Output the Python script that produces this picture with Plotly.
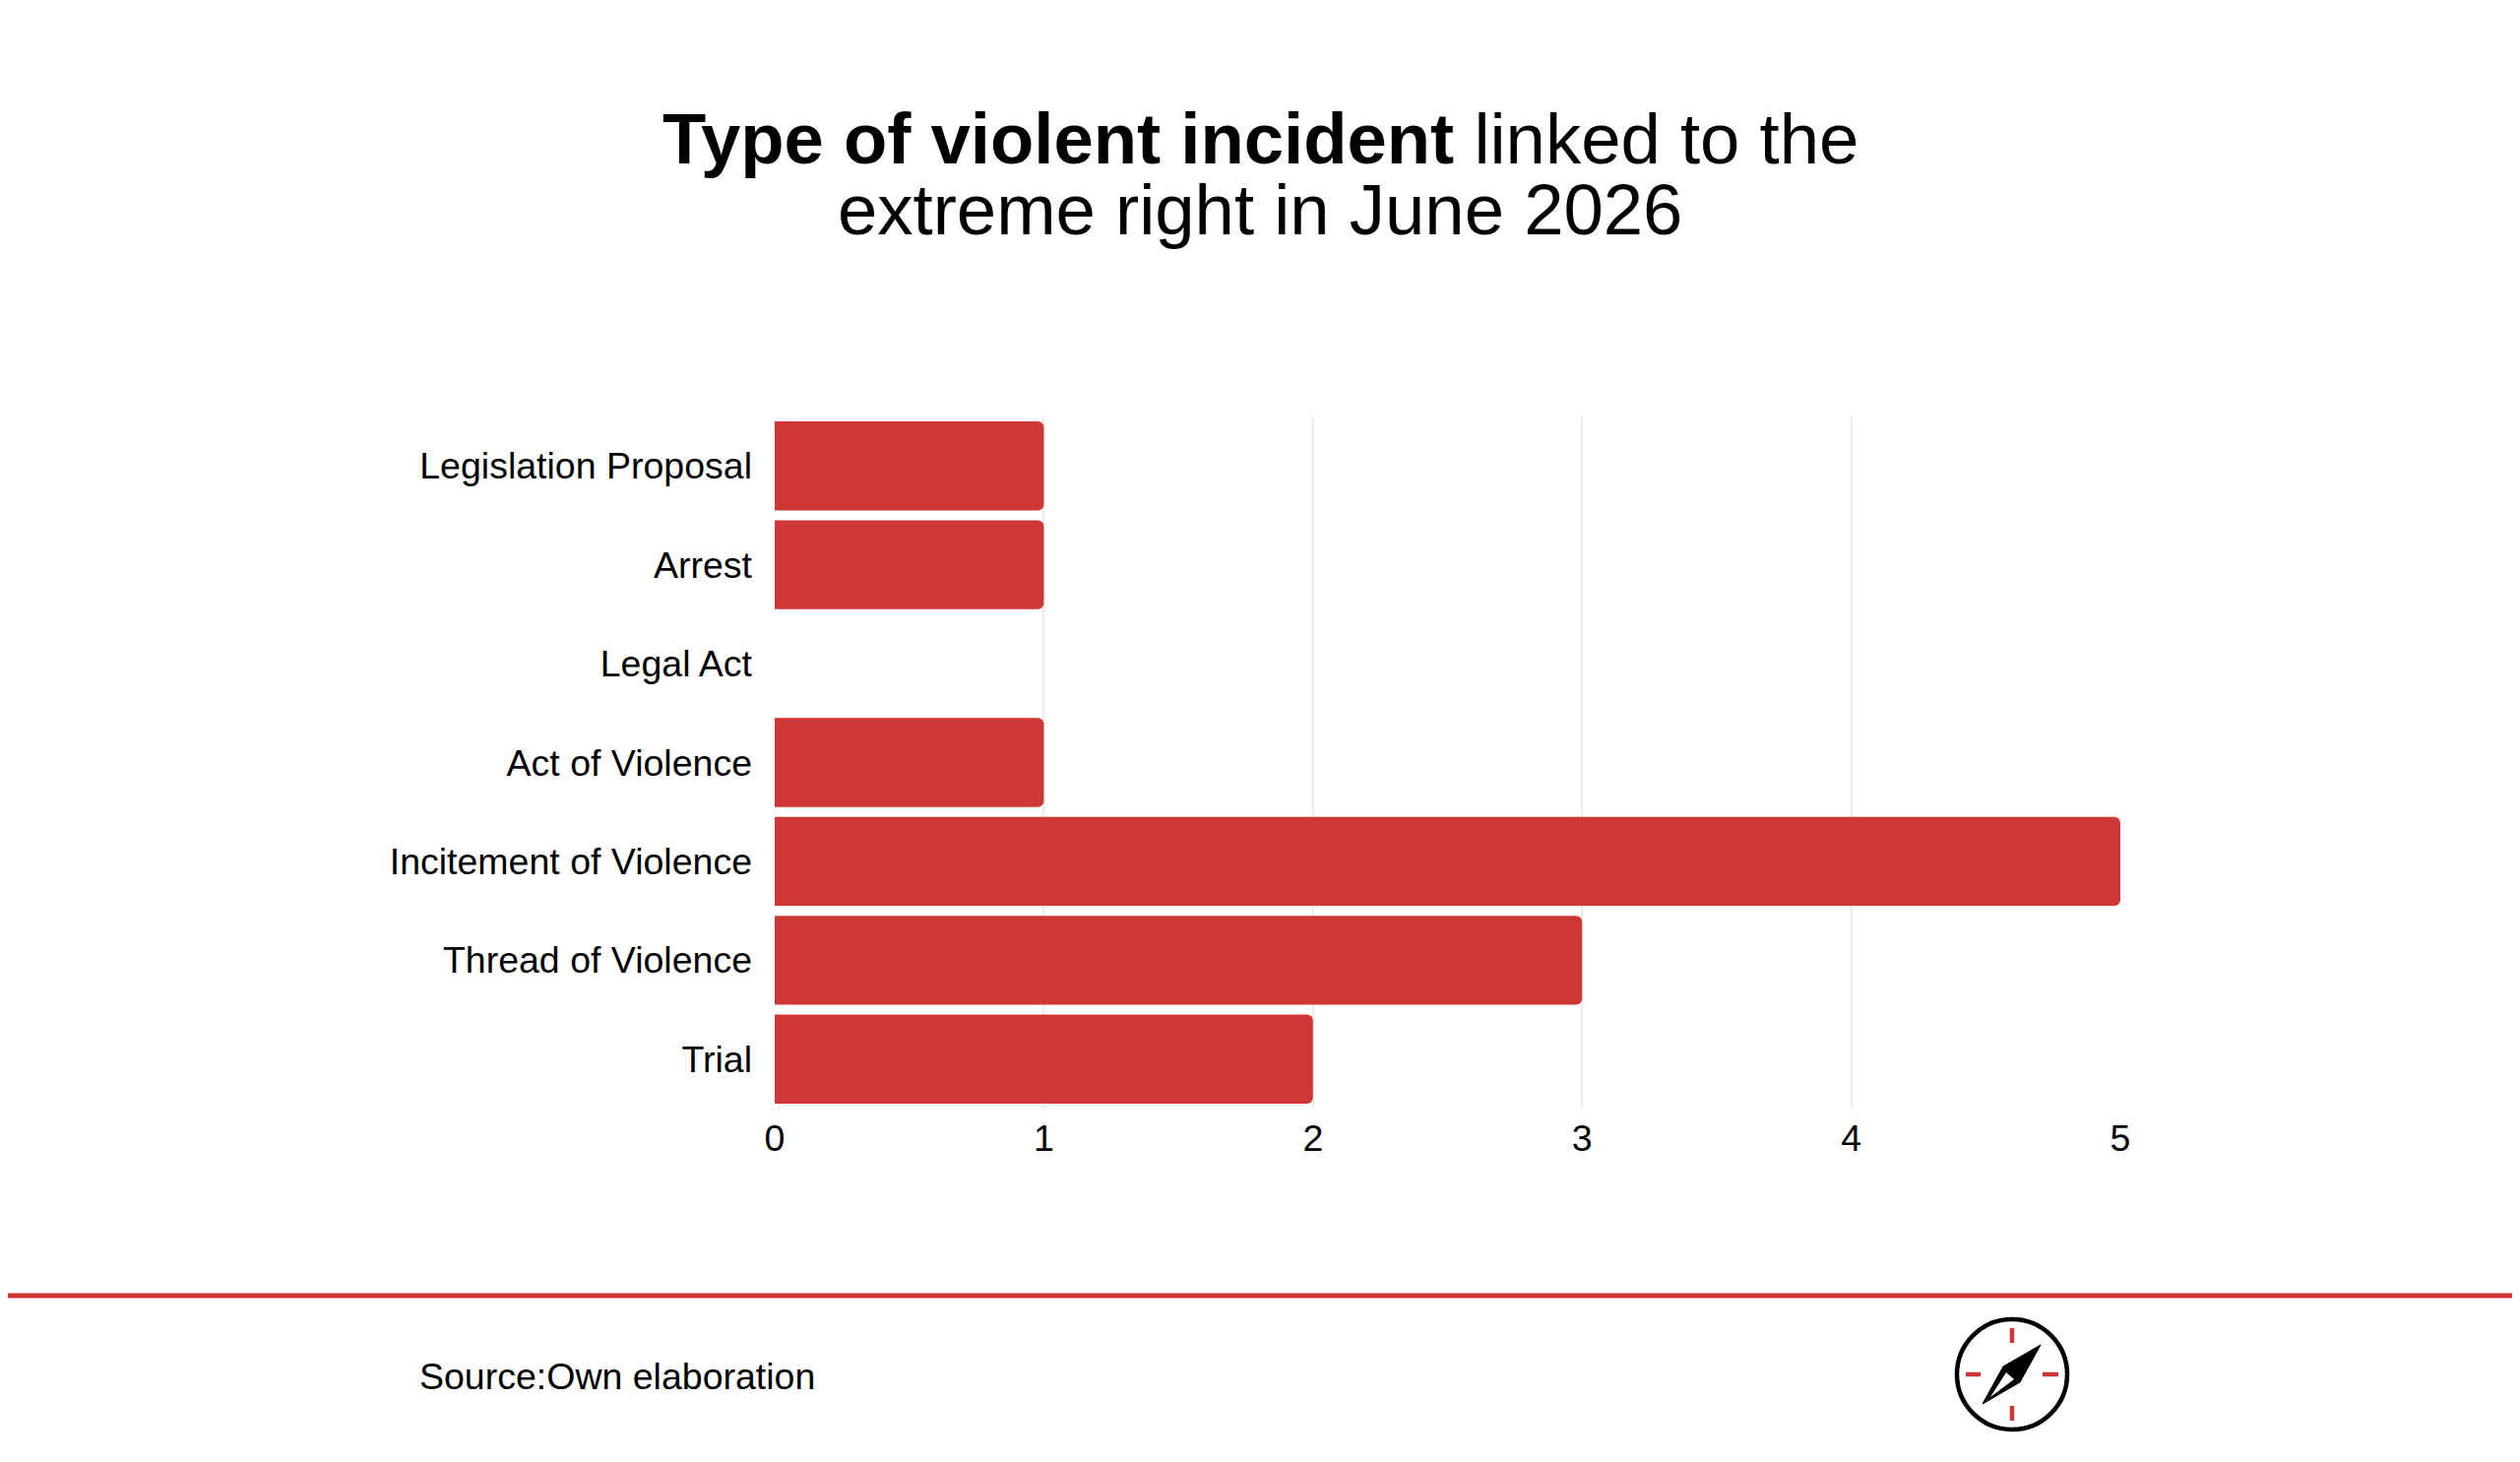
import plotly.graph_objects as go

categories = ["Legislation Proposal", "Arrest", "Legal Act", "Act of Violence",
              "Incitement of Violence", "Thread of Violence", "Trial"]
counts = [1, 1, 0, 1, 5, 3, 2]
x_ticks = [0, 1, 2, 3, 4, 5]

RED = "#cf3636"
FONT = "Liberation Sans, Arial, sans-serif"

W, H = 2560, 1485
OFF = 8  # page body margin, positions below are given in page pixels
ml, mt = 787 - OFF, 423 - OFF
pw, ph = 1367, 703
mr, mb = W - ml - pw, H - mt - ph


def px_x(x):
    return (x - OFF - ml) / pw


def px_y(y):
    return (H - mb - (y - OFF)) / ph


fig = go.Figure(go.Bar(
    x=counts, y=categories, orientation="h",
    marker=dict(color=RED, cornerradius=6, line=dict(width=0)),
))

shapes = []
# red separator line across the page
shapes.append(dict(type="line", xref="paper", yref="paper",
                   x0=px_x(0), x1=px_x(W + OFF), y0=px_y(1316), y1=px_y(1316),
                   line=dict(color=RED, width=5)))

# compass logo
cx, cy, r = 2044, 1396, 56
shapes.append(dict(type="circle", xref="paper", yref="paper",
                   x0=px_x(cx - r), x1=px_x(cx + r), y0=px_y(cy + r), y1=px_y(cy - r),
                   line=dict(color="black", width=4.5), fillcolor="white"))
for (a, b, c, d) in [(cx, 1349, cx, 1364), (cx, 1428, cx, 1443),
                     (1997, cy, 2012, cy), (2075, cy, 2091, cy)]:
    shapes.append(dict(type="line", xref="paper", yref="paper",
                       x0=px_x(a), y0=px_y(b), x1=px_x(c), y1=px_y(d),
                       line=dict(color=RED, width=4.5)))


def poly(pts):
    return "M " + " L ".join(f"{px_x(p[0])} {px_y(p[1])}" for p in pts) + " Z"


shapes.append(dict(type="path", xref="paper", yref="paper",
                   path=poly([(2073, 1366), (2035, 1388), (2014, 1426), (2052, 1404)]),
                   fillcolor="black", line=dict(color="black", width=1)))
shapes.append(dict(type="path", xref="paper", yref="paper",
                   path=poly([(2038, 1394), (2046, 1401), (2022, 1419)]),
                   fillcolor="white", line=dict(width=0)))

annotations = [
    dict(text="<b>Type of violent incident</b> linked to the", xref="paper", yref="paper",
         x=px_x(1280), y=px_y(140), xanchor="center", yanchor="middle", showarrow=False,
         font=dict(size=72.5, color="black", family=FONT)),
    dict(text="extreme right in June 2026", xref="paper", yref="paper",
         x=px_x(1280), y=px_y(212), xanchor="center", yanchor="middle", showarrow=False,
         font=dict(size=72.5, color="black", family=FONT)),
    dict(text="Source:Own elaboration", xref="paper", yref="paper",
         x=px_x(424), y=px_y(1398), xanchor="left", yanchor="middle", showarrow=False,
         font=dict(size=37.5, color="black", family=FONT)),
]

fig.update_layout(
    width=W, height=H,
    margin=dict(l=ml, r=mr, t=mt, b=mb),
    paper_bgcolor="white", plot_bgcolor="white",
    font=dict(family=FONT, color="black", size=37.5),
    bargap=0.1,
    showlegend=False,
    shapes=shapes,
    annotations=annotations,
    xaxis=dict(range=[0, 5], tickvals=x_ticks, showgrid=True, gridcolor="#ececec",
               gridwidth=1.5, zeroline=False, showline=False, ticks="",
               ticklabelstandoff=4, tickfont=dict(size=37.5), fixedrange=True),
    yaxis=dict(categoryorder="array", categoryarray=categories, autorange="reversed",
               showgrid=False, zeroline=False, showline=False, ticks="",
               ticklabelstandoff=22, tickfont=dict(size=37.5), fixedrange=True),
)

fig.write_html("out.html")
